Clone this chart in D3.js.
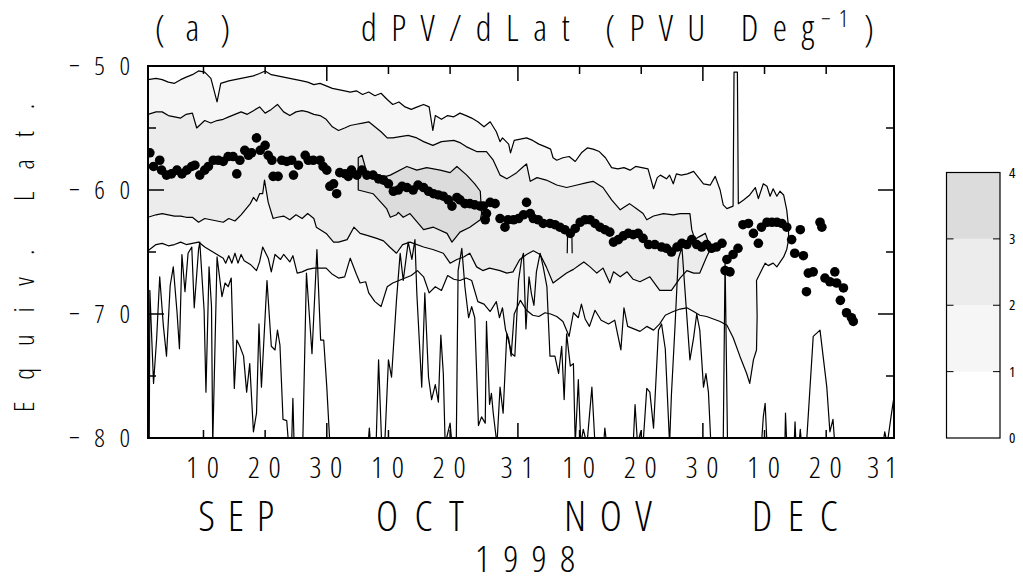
<!DOCTYPE html>
<html><head><meta charset="utf-8">
<script src="https://cdn.jsdelivr.net/npm/d3@7"></script>
<style>
body{margin:0;background:#fff}
svg{display:block}
text{font-family:"Open Sans","DejaVu Sans",sans-serif;font-weight:300;font-stretch:75%;fill:#000}
</style>
</head><body>
<svg id="c" width="1023" height="582"></svg>
<script>
// ---------------- data (day 1 = 1 Sep 1998, latitude in degrees) ----------------
const tickDays   = [10,20,30,40,50,61,71,81,91,101,111,122];
const tickLabels = ["10","20","30","10","20","31","10","20","30","10","20","31"];
const monthEnds  = [30,61,91,122];
const months     = ["SEP","OCT","NOV","DEC"];
const monthMid   = [15.3,45.1,75.6,105.9];
const yearLabel  = "1998";
const latTicks   = [-50,-60,-70,-80];
const latMinor   = [-55,-65,-75];
const levels     = [0,1,2,3,4];
const levelFills = ["#ffffff","#f6f6f6","#ececec","#dcdcdc"];

// contour 1 (upper and lower boundary)
const c1top = [[1,-51.1],[2.3,-51.0],[3.3,-51.1],[4.3,-51.3],[5.3,-51.4],[6.3,-51.1],[7.2,-50.9],[8.2,-50.7],[9.2,-50.4],[10.2,-50.5],[11.2,-51.0],[12.2,-52.9],[12.8,-51.4],[14.1,-51.2],[15.1,-51.1],[16.1,-51.0],[17.1,-50.9],[18.1,-50.8],[19.1,-50.6],[20.0,-50.4],[21.0,-50.7],[22.0,-50.8],[23.0,-50.9],[24.0,-51.0],[25.0,-51.1],[26.0,-51.2],[26.9,-51.3],[27.9,-51.5],[28.9,-51.4],[29.9,-51.6],[30.9,-51.8],[31.9,-51.9],[32.9,-52.0],[33.8,-52.1],[34.8,-52.0],[35.8,-52.3],[36.8,-52.1],[37.8,-52.4],[38.8,-52.2],[39.8,-52.7],[40.7,-53.1],[41.7,-52.9],[42.7,-53.3],[43.7,-53.5],[44.7,-53.3],[45.7,-53.1],[46.6,-53.3],[47.2,-55.2],[47.6,-54.0],[48.6,-54.3],[49.6,-54.0],[50.6,-54.1],[51.6,-53.8],[52.6,-54.0],[53.5,-54.2],[54.5,-54.5],[55.5,-54.9],[56.5,-54.5],[57.5,-55.3],[58.1,-56.1],[58.5,-55.8],[59.5,-56.3],[59.8,-57.0],[60.4,-56.0],[61.4,-55.9],[62.4,-55.8],[63.4,-56.0],[64.4,-56.3],[65.4,-56.5],[66.3,-56.7],[66.7,-57.4],[67.3,-57.6],[68.3,-57.4],[69.3,-57.3],[70.3,-57.7],[71.3,-57.0],[72.3,-56.6],[73.2,-56.7],[74.2,-56.9],[75.2,-57.4],[76.2,-58.2],[77.2,-58.3],[78.2,-58.2],[79.2,-58.4],[80.1,-58.1],[81.1,-58.2],[82.1,-58.3],[83.0,-59.9],[83.6,-59.0],[84.1,-58.8],[85.1,-59.1],[85.6,-58.8],[86.2,-59.5],[86.7,-58.7],[87.5,-58.8],[88.5,-58.7],[89.5,-58.5],[90.3,-59.0],[91.1,-59.5],[92.2,-59.6],[93.0,-58.9],[93.8,-60.0],[94.3,-61.2],[94.9,-61.5],[95.9,-61.3],[96.05,-50.5],[96.6,-50.5],[96.75,-61.1],[97.6,-60.8],[98.6,-60.4],[99.5,-59.8],[100.0,-60.7],[100.8,-59.5],[101.4,-59.7],[101.9,-60.5],[102.4,-59.9],[103.0,-60.5],[103.5,-60.1],[104.1,-60.4],[104.6,-61.6]];
const c1bot = [[1,-64.9],[2.3,-64.4],[3.3,-64.3],[4.3,-64.5],[5.3,-64.4],[6.3,-64.2],[7.2,-64.4],[8.2,-64.3],[9.2,-64.2],[10.2,-64.6],[11.2,-64.9],[12.2,-65.2],[13.2,-65.5],[13.6,-65.9],[14.1,-65.3],[14.6,-65.9],[15.1,-65.1],[15.6,-65.9],[16.1,-65.2],[16.6,-65.7],[17.6,-66.0],[18.6,-66.5],[19.1,-65.8],[19.6,-64.6],[20.5,-65.5],[21.0,-66.6],[21.6,-65.2],[22.5,-65.6],[23.0,-65.2],[24.0,-65.8],[24.5,-65.3],[25.2,-66.7],[26.0,-66.6],[26.9,-66.4],[27.9,-66.3],[28.9,-66.3],[29.9,-66.3],[30.9,-66.8],[31.9,-67.1],[32.9,-67.0],[33.8,-65.5],[34.8,-66.8],[35.4,-67.5],[36.3,-67.4],[36.8,-68.3],[37.8,-69.0],[38.8,-69.4],[39.8,-67.8],[40.7,-67.5],[41.7,-67.3],[42.7,-67.1],[43.7,-66.9],[44.7,-66.5],[45.7,-67.0],[46.6,-68.3],[47.6,-67.8],[48.6,-68.1],[49.6,-66.9],[50.6,-67.2],[51.6,-67.3],[52.6,-67.1],[53.5,-67.3],[54.5,-69.0],[55.5,-69.2],[56.5,-69.8],[57.5,-69.0],[58.0,-70.3],[58.5,-69.5],[59.0,-71.3],[59.5,-72.0],[59.9,-73.4],[60.4,-70.0],[61.4,-68.9],[62.4,-69.7],[63.4,-70.1],[64.4,-70.2],[65.4,-69.9],[66.3,-70.0],[67.3,-70.2],[68.3,-70.6],[69.3,-71.8],[70.0,-69.9],[70.8,-70.3],[71.3,-69.2],[71.9,-70.4],[72.6,-71.0],[73.5,-69.7],[74.5,-70.5],[75.7,-70.8],[76.7,-70.5],[77.7,-72.9],[78.2,-69.5],[78.8,-71.0],[79.8,-71.2],[80.8,-71.4],[81.9,-71.0],[83.0,-71.3],[84.0,-70.8],[84.9,-70.1],[86.2,-69.8],[87.3,-69.6],[88.4,-69.5],[89.5,-69.8],[90.5,-70.1],[91.6,-70.2],[92.7,-70.4],[93.8,-70.6],[94.9,-70.9],[95.9,-71.9],[97.0,-73.4],[98.1,-74.8],[98.6,-75.6],[99.2,-73.7],[99.7,-72.9],[99.8,-70.2],[99.7,-67.3],[100.3,-66.7],[101.1,-65.9],[101.6,-66.1],[102.4,-65.9],[103.0,-66.2],[104.1,-65.4],[104.6,-64.8],[104.9,-64.0],[104.9,-63.0]];

// contour 2
const c2top = [[1,-53.9],[2.3,-53.7],[3.3,-53.7],[4.3,-54.0],[5.3,-54.1],[6.3,-54.2],[7.2,-53.9],[8.2,-53.8],[8.9,-55.0],[10.2,-54.4],[11.2,-54.6],[12.2,-54.4],[13.2,-54.3],[14.1,-54.1],[15.1,-53.9],[16.1,-53.7],[17.1,-53.9],[18.1,-53.6],[19.1,-53.3],[20.0,-53.8],[21.0,-53.5],[22.0,-53.1],[23.0,-53.7],[24.0,-54.0],[25.0,-53.7],[26.0,-53.6],[26.9,-53.7],[27.9,-53.9],[28.9,-54.0],[29.9,-54.3],[30.9,-54.9],[31.9,-55.2],[32.9,-55.0],[33.8,-54.8],[34.8,-54.7],[35.8,-54.6],[36.8,-54.5],[37.8,-54.9],[38.8,-55.3],[39.8,-55.8],[40.7,-55.8],[41.9,-55.7],[43.2,-55.6],[44.6,-55.8],[45.7,-56.1],[47.2,-56.4],[48.6,-56.1],[50.6,-56.0],[51.7,-56.2],[52.6,-56.5],[54.3,-56.9],[55.9,-56.9],[57.0,-57.6],[58.1,-58.8],[59.2,-59.1],[60.8,-58.6],[61.9,-58.1],[62.4,-57.9],[63.0,-59.3],[64.1,-59.0],[65.6,-59.2],[67.3,-59.6],[68.9,-59.8],[70.6,-59.6],[72.2,-59.4],[73.2,-59.3],[74.8,-59.8],[76.2,-60.8],[77.6,-61.6],[78.2,-61.4],[79.1,-61.1],[80.2,-61.5],[81.3,-61.9],[81.9,-62.4],[83.0,-62.1],[84.6,-61.9],[86.2,-62.0],[87.3,-61.9],[88.9,-61.9],[89.2,-63.2],[89.7,-64.0],[90.3,-63.8],[91.4,-63.5],[91.9,-64.2]];
const c2bot = [[1,-62.2],[2.3,-62.0],[3.3,-61.9],[4.3,-62.0],[5.3,-62.1],[6.3,-62.1],[7.2,-62.2],[8.2,-62.2],[9.2,-62.6],[10.2,-62.3],[11.2,-62.4],[12.2,-62.5],[13.2,-62.6],[14.1,-62.3],[15.1,-62.5],[16.1,-62.0],[17.1,-61.4],[17.6,-61.1],[18.1,-60.6],[18.6,-60.9],[19.1,-60.3],[19.6,-60.3],[19.9,-59.2],[20.5,-61.0],[21.3,-62.3],[22.0,-62.2],[23.0,-62.1],[24.0,-62.4],[25.0,-62.0],[26.0,-62.3],[26.9,-61.9],[27.9,-62.3],[28.3,-63.0],[29.9,-63.5],[31.1,-64.2],[31.9,-64.2],[33.3,-64.0],[34.4,-63.0],[35.4,-63.5],[36.8,-63.7],[38.1,-63.9],[39.2,-64.1],[40.2,-64.6],[41.3,-65.1],[42.3,-64.4],[43.5,-64.2],[45.7,-64.6],[47.2,-64.8],[48.9,-65.1],[50.0,-65.9],[51.1,-65.6],[52.2,-65.4],[53.2,-65.1],[54.3,-66.2],[55.3,-66.5],[56.4,-66.3],[58.1,-66.5],[59.2,-66.7],[60.2,-66.6],[61.3,-65.6],[62.4,-65.2],[63.5,-64.9],[64.6,-65.2],[65.6,-66.2],[66.7,-67.5],[67.8,-67.1],[68.9,-66.7],[70.0,-66.4],[71.1,-66.0],[71.7,-65.8],[72.7,-66.2],[73.8,-66.7],[74.8,-66.3],[75.9,-67.5],[76.5,-66.6],[77.6,-67.0],[78.7,-66.6],[79.7,-67.2],[80.8,-67.4],[82.4,-67.0],[84.0,-68.1],[85.9,-68.1],[87.3,-67.1],[88.4,-66.5],[89.5,-66.7],[90.5,-66.7],[91.6,-65.4],[92.2,-64.8]];
const pocket = [[69.0,-65.1],[69.05,-63.6],[69.4,-63.4],[69.75,-63.6],[69.8,-65.1]];

// contour 3 (closed)
const c3top = [[35.1,-60.0],[35.1,-57.4],[35.7,-57.2],[36.5,-58.6],[38.1,-58.8],[39.6,-58.9],[40.3,-58.8],[43.0,-58.1],[44.6,-58.4],[46.2,-58.2],[48.4,-58.4],[50.0,-58.6],[51.1,-58.1],[52.7,-58.8],[54.0,-59.5],[54.9,-60.1],[55.1,-61.9],[54.9,-62.4]];
const c3bot = [[35.1,-60.0],[37.5,-60.3],[39.7,-61.5],[40.3,-62.2],[41.3,-62.0],[41.6,-61.8],[42.4,-62.2],[43.5,-61.9],[45.7,-63.2],[47.3,-63.0],[49.5,-63.5],[50.3,-64.2],[51.6,-63.4],[53.2,-63.0],[54.9,-62.4]];

// noisy contour near the pole
const lowLine = [[1,-80.5],[1.2,-80.5],[1.3,-68.1],[1.9,-75.6],[2.4,-72.0],[2.9,-67.0],[3.5,-71.0],[4.0,-73.4],[4.6,-67.7],[5.1,-66.2],[5.7,-69.8],[6.1,-72.8],[6.5,-65.2],[7.0,-68.2],[7.5,-65.1],[8.1,-64.6],[8.5,-69.5],[9.2,-64.8],[9.4,-64.2],[10.1,-69.7],[10.4,-76.3],[10.9,-66.2],[11.3,-69.4],[11.5,-80.5],[12.2,-65.4],[13.0,-68.6],[13.5,-67.5],[14.0,-67.8],[14.5,-67.1],[15.0,-76.0],[15.4,-72.1],[15.9,-72.6],[16.5,-73.4],[17.0,-76.3],[17.5,-74.0],[18.1,-79.5],[18.6,-78.0],[19.0,-70.8],[19.4,-75.9],[20.3,-67.3],[21.0,-72.6],[21.6,-72.9],[22.0,-71.3],[22.4,-72.5],[22.9,-78.5],[23.5,-78.6],[23.8,-80.5],[24.3,-80.5],[24.5,-76.8],[24.7,-80.5],[26.1,-80.5],[26.7,-66.7],[27.6,-73.2],[28.4,-64.8],[29.0,-72.1],[29.5,-72.1],[30.0,-75.9],[30.5,-80.5],[36.7,-80.5],[36.9,-79.2],[37.1,-80.5],[38.0,-80.5],[38.4,-73.7],[38.9,-80.5],[39.4,-80.5],[40.0,-73.7],[40.5,-75.1],[41.3,-68.9],[41.9,-65.1],[42.4,-67.3],[43.2,-64.2],[43.8,-65.6],[44.3,-64.0],[44.6,-68.3],[45.4,-75.9],[45.9,-68.3],[46.5,-75.1],[47.0,-76.9],[47.6,-75.7],[48.1,-77.1],[48.5,-71.7],[48.9,-74.8],[49.2,-80.5],[50.0,-78.8],[50.3,-80.5],[51.0,-80.5],[51.3,-66.5],[51.9,-64.7],[52.4,-67.8],[53.0,-70.3],[53.5,-69.4],[54.0,-70.3],[54.6,-79.0],[55.1,-78.3],[55.7,-78.8],[55.9,-70.6],[56.4,-77.3],[56.7,-76.4],[57.0,-78.0],[57.6,-80.5],[58.1,-75.9],[58.6,-78.0],[59.2,-71.6],[60.0,-73.2],[60.5,-73.4],[61.1,-67.3],[61.6,-65.6],[61.9,-65.1],[62.3,-71.2],[62.8,-67.0],[63.2,-68.4],[63.6,-69.3],[64.0,-66.6],[64.6,-65.1],[65.1,-66.2],[65.7,-67.8],[66.2,-73.4],[67.0,-73.4],[67.6,-74.8],[68.1,-72.6],[68.5,-76.9],[68.9,-71.6],[69.5,-74.2],[70.0,-74.0],[70.3,-80.5],[70.8,-75.3],[71.2,-80.5],[71.6,-79.3],[72.2,-80.5],[73.0,-75.9],[73.5,-80.5],[74.9,-80.5],[75.1,-79.2],[75.4,-80.5],[79.7,-80.5],[80.0,-77.3],[80.4,-80.5],[80.9,-79.5],[81.3,-80.5],[81.9,-76.0],[82.4,-76.3],[83.0,-79.2],[83.8,-71.3],[84.3,-70.8],[84.9,-72.8],[85.6,-80.5],[85.9,-76.5],[86.5,-70.8],[87.0,-65.6],[87.6,-64.6],[88.1,-68.1],[88.9,-73.7],[89.5,-71.9],[90.0,-70.0],[90.5,-71.3],[91.1,-75.9],[91.5,-74.8],[91.9,-76.3],[92.3,-80.5],[94.3,-80.5],[94.6,-65.6],[95.0,-80.5],[100.5,-80.5],[100.8,-78.3],[101.1,-77.2],[101.4,-80.5],[104.3,-80.5],[104.4,-78.0],[104.6,-80.5],[105.8,-80.5],[105.95,-78.7],[106.1,-80.5],[106.6,-80.5],[106.8,-79.3],[107.0,-80.5],[107.8,-80.5],[108.9,-71.8],[110.0,-71.3],[111.1,-75.9],[111.6,-79.5],[112.1,-78.5],[112.4,-80.5],[120.2,-80.5],[120.5,-79.5],[120.9,-80.5],[121.6,-78.0],[122.2,-76.0]];

// latitude of maximum gradient (dots)
const maxLat = [[1.3,-57.0],[1.9,-58.1],[2.9,-57.6],[3.2,-58.4],[4.0,-58.8],[4.8,-58.7],[5.7,-58.4],[6.5,-58.7],[7.3,-58.4],[8.1,-58.1],[8.6,-58.0],[9.4,-58.8],[10.2,-58.4],[10.8,-58.1],[11.6,-57.6],[12.4,-57.6],[13.2,-57.7],[14.0,-57.3],[14.8,-57.3],[15.4,-58.7],[15.9,-57.6],[16.7,-56.8],[17.3,-57.2],[17.8,-57.0],[18.6,-55.8],[19.2,-56.8],[20.0,-56.4],[20.5,-57.2],[21.1,-57.6],[21.3,-58.9],[22.1,-58.9],[22.7,-57.6],[23.5,-57.7],[24.3,-57.6],[24.6,-58.8],[25.4,-58.0],[26.5,-57.2],[27.0,-57.6],[27.8,-57.6],[28.9,-57.6],[29.4,-58.1],[30.0,-58.4],[30.5,-59.7],[31.1,-59.5],[31.6,-60.3],[32.1,-58.6],[33.0,-58.7],[33.5,-58.9],[34.0,-58.4],[34.9,-58.8],[35.7,-58.4],[36.5,-58.8],[37.5,-58.8],[38.4,-59.1],[39.2,-59.2],[40.0,-59.5],[40.8,-60.1],[41.6,-60.0],[42.2,-59.7],[43.0,-59.8],[44.0,-60.0],[44.8,-59.6],[45.7,-59.8],[46.5,-60.1],[47.3,-60.3],[48.1,-60.4],[48.9,-60.5],[49.7,-60.8],[50.3,-61.3],[51.1,-60.6],[51.6,-60.8],[52.4,-61.1],[53.2,-61.1],[54.0,-61.2],[54.9,-61.3],[55.4,-61.3],[55.9,-61.9],[55.7,-62.4],[56.5,-61.0],[57.3,-61.1],[58.1,-62.3],[58.9,-63.0],[59.4,-62.4],[60.3,-62.4],[61.1,-62.3],[61.9,-62.0],[62.4,-61.0],[63.0,-61.9],[63.5,-62.3],[64.3,-62.4],[65.1,-62.7],[66.2,-62.7],[67.0,-62.8],[67.8,-63.0],[68.6,-63.2],[69.5,-63.5],[70.3,-63.1],[71.1,-62.6],[71.9,-62.4],[72.7,-62.4],[73.5,-62.7],[74.3,-63.0],[75.1,-63.2],[75.9,-63.4],[76.5,-64.2],[77.3,-64.0],[78.1,-63.7],[78.9,-63.5],[79.7,-63.6],[80.5,-63.5],[81.3,-63.9],[82.2,-64.4],[83.2,-64.4],[84.3,-64.6],[85.1,-64.7],[85.9,-65.0],[86.8,-64.6],[87.6,-64.3],[88.4,-64.4],[89.2,-64.0],[90.0,-64.4],[90.8,-64.6],[91.6,-64.4],[92.4,-64.7],[93.2,-64.6],[94.1,-64.3],[94.6,-66.5],[94.9,-65.6],[95.4,-66.6],[95.9,-65.2],[96.7,-64.7],[97.5,-62.8],[98.4,-62.7],[99.2,-63.5],[100.0,-64.3],[100.5,-63.0],[101.4,-62.6],[102.2,-62.6],[103.0,-62.6],[103.8,-62.7],[104.6,-63.0],[105.4,-64.0],[105.9,-65.1],[106.8,-63.2],[107.3,-65.3],[107.8,-68.2],[108.1,-66.7],[108.9,-66.6],[110.0,-62.6],[110.3,-63.0],[110.8,-67.1],[111.6,-67.4],[112.4,-66.6],[112.7,-67.5],[113.3,-68.9],[113.8,-67.9],[114.3,-69.9],[115.1,-70.3],[115.4,-70.6]];

// ---------------- drawing ----------------
const svg = d3.select("#c");
const L = 148, R = 894, T = 66, B = 438;
const x = d3.scaleLinear().domain([1,122]).range([L,R]);
const y = d3.scaleLinear().domain([-80,-50]).range([B,T]);
const line = d3.line().x(d=>x(d[0])).y(d=>y(d[1]));

svg.append("defs").append("clipPath").attr("id","clip")
  .append("rect").attr("x",L).attr("y",T).attr("width",R-L).attr("height",B-T);
const g = svg.append("g").attr("clip-path","url(#clip)");

const poly1 = c1top.concat(c1bot.slice().reverse());
const poly2 = c2top.concat(c2bot.slice().reverse());
const poly3 = c3top.concat(c3bot.slice().reverse());

g.append("path").attr("d", line(poly1)+"Z").attr("fill", levelFills[1]);
g.append("path").attr("d", line(poly2)+"Z").attr("fill", levelFills[2]);
g.append("path").attr("d", line(pocket)+"Z").attr("fill", levelFills[1]);
g.append("path").attr("d", line(poly3)+"Z").attr("fill", levelFills[3]);

const stroke = (p,closed)=>g.append("path").attr("d", line(p)+(closed?"Z":""))
  .attr("fill","none").attr("stroke","#000").attr("stroke-width",1.2).attr("stroke-linejoin","round");
stroke(poly1,false);
stroke(poly2,false);
stroke(poly3,true);
stroke(pocket,false);
stroke(lowLine,false);

g.selectAll("circle.dot").data(maxLat).enter().append("circle")
  .attr("cx",d=>x(d[0])).attr("cy",d=>y(d[1])).attr("r",4.8).attr("fill","#000");

// frame
svg.append("rect").attr("x",L).attr("y",T).attr("width",R-L).attr("height",B-T)
  .attr("fill","none").attr("stroke","#000").attr("stroke-width",2);

// x ticks (top & bottom)
tickDays.forEach(d=>{
  const len = monthEnds.includes(d) ? 15 : 8;
  const xx = x(d);
  svg.append("line").attr("x1",xx).attr("x2",xx).attr("y1",T).attr("y2",T+len).attr("stroke","#000").attr("stroke-width",1.5);
  svg.append("line").attr("x1",xx).attr("x2",xx).attr("y1",B).attr("y2",B-len).attr("stroke","#000").attr("stroke-width",1.5);
});
// y ticks (left & right)
latTicks.concat(latMinor).forEach(v=>{
  const len = latTicks.includes(v) ? 16 : 8;
  const yy = y(v);
  svg.append("line").attr("x1",L).attr("x2",L+len).attr("y1",yy).attr("y2",yy).attr("stroke","#000").attr("stroke-width",1.5);
  svg.append("line").attr("x1",R).attr("x2",R-len).attr("y1",yy).attr("y2",yy).attr("stroke","#000").attr("stroke-width",1.5);
});

function txt(xp,yp,s,size,len,anchor){
  const t = svg.append("text").attr("x",xp).attr("y",yp).attr("font-size",size)
    .attr("text-anchor",anchor||"middle").text(s);
  if(len) t.attr("textLength",len).attr("lengthAdjust","spacing");
  return t;
}
// x tick labels
tickDays.forEach((d,i)=>{
  if(i===tickDays.length-1) txt(x(d)+3,478,tickLabels[i],30,30,"end");
  else txt(x(d)-1,478,tickLabels[i],30,33,"middle");
});
months.forEach((m,i)=>txt(x(monthMid[i]),531,m,42,[76,88,88,86][i],"middle"));
txt(x(61.5)+4,572,yearLabel,37,100,"middle");

// y tick labels
latTicks.forEach(v=>txt(130,y(v)+9,"\u2212"+Math.abs(v),26,61,"end"));
// y title
svg.append("text").attr("transform","translate(34,258) rotate(-90)").attr("font-size",27)
  .attr("text-anchor","middle").attr("textLength",308).attr("lengthAdjust","spacing").text("Equiv. Lat.");

// title
txt(155,41,"(a)",36,75,"start");
txt(361,41,"dPV/dLat (PVU Deg",36,453,"start");
txt(821,27,"\u22121",23,27,"start");
txt(864,41,")",36,null,"start");

// colorbar
const cb = d3.scaleLinear().domain([0,4]).range([438,172.5]);
const cbx = 946.5, cbw = 53.5;
for(let i=0;i<4;i++){
  svg.append("rect").attr("x",cbx).attr("y",cb(levels[i+1])).attr("width",cbw)
    .attr("height",cb(levels[i])-cb(levels[i+1])).attr("fill",levelFills[i]);
}
svg.append("rect").attr("x",cbx).attr("y",cb(4)).attr("width",cbw).attr("height",cb(0)-cb(4))
  .attr("fill","none").attr("stroke","#000").attr("stroke-width",1.2);
levels.forEach(v=>{
  if(v>0 && v<4){
    svg.append("line").attr("x1",cbx).attr("x2",cbx+7).attr("y1",cb(v)).attr("y2",cb(v)).attr("stroke","#000");
    svg.append("line").attr("x1",cbx+cbw-7).attr("x2",cbx+cbw).attr("y1",cb(v)).attr("y2",cb(v)).attr("stroke","#000");
  }
  txt(1009,cb(v)+5,String(v),15,null,"start").style("font-weight",400);
});
</script>
</body></html>
